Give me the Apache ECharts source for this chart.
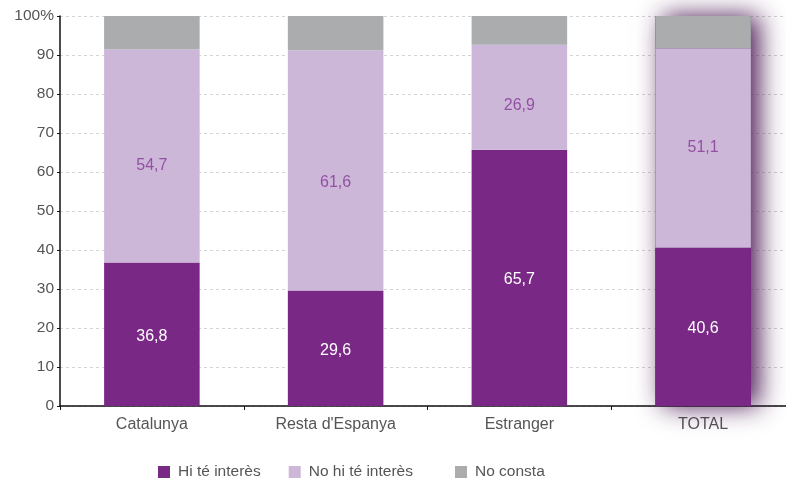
<!DOCTYPE html>
<html>
<head>
<meta charset="utf-8">
<script src="https://cdn.jsdelivr.net/npm/echarts@6/dist/echarts.min.js"></script>
<style>
  html, body { margin: 0; padding: 0; background: #fff; overflow: hidden; }
  #chart { width: 795px; height: 480px; }
</style>
</head>
<body>
<div id="chart"></div>
<script>
// Categories and stacked shares (%)
const categories = ['Catalunya', "Resta d'Espanya", 'Estranger', 'TOTAL'];
const hiTeInteres = [36.8, 29.6, 65.7, 40.6];
const noHiTeInteres = [54.7, 61.6, 26.9, 51.1];
const noConsta = [8.5, 8.8, 7.4, 8.3];
const yTicks = [0, 10, 20, 30, 40, 50, 60, 70, 80, 90, 100];

// Vertical nudge (px) of the middle-segment labels, per column
const midLabelShift = [10, 12, 8, 0];

// Full-height backdrop only under the TOTAL column, used to cast its shadow
const totalBackdrop = categories.map((c, i) =>
  c === 'TOTAL' ? hiTeInteres[i] + noHiTeInteres[i] + noConsta[i] : null);

const FONT = 'Liberation Sans';
const chart = echarts.init(document.getElementById('chart'), null, { renderer: 'canvas' });

const fmt = p => String(p.value).replace('.', ',');

const legendBase = {
  top: 459,
  itemWidth: 12, itemHeight: 12, itemGap: 28,
  icon: 'rect',
  textStyle: { fontFamily: FONT, fontSize: 15.5, color: '#555', padding: [0, 0, 0, 3] }
};

chart.setOption({
  animation: false,
  textStyle: { fontFamily: FONT },
  grid: { left: 60, top: 16, right: 0, bottom: 74, containLabel: false },
  legend: [
    Object.assign({ left: 153, data: ['Hi té interès', 'No hi té interès'] }, legendBase),
    Object.assign({ left: 450, data: ['No consta'] }, legendBase)
  ],
  xAxis: {
    type: 'category',
    data: categories,
    axisLine: { lineStyle: { color: '#111', width: 1.5 } },
    axisTick: { show: true, length: 4, lineStyle: { color: '#111' } },
    axisLabel: { fontFamily: FONT, fontSize: 16, color: '#555', margin: 11 }
  },
  yAxis: {
    type: 'value',
    min: 0, max: 100, interval: 10,
    axisLine: { show: true, lineStyle: { color: '#111', width: 1.5 } },
    axisTick: { show: true, length: 3, lineStyle: { color: '#111' } },
    axisLabel: {
      fontFamily: FONT, fontSize: 15.5, color: '#555', margin: 6,
      formatter: v => yTicks.includes(v) ? (v === 100 ? '100%' : String(v)) : ''
    },
    splitLine: { show: true, lineStyle: { color: '#d4d4d4', type: [3, 3], width: 1 } }
  },
  series: [
    {
      name: 'backdrop',
      type: 'bar',
      data: totalBackdrop,
      barWidth: '52%',
      barGap: '-100%',
      z: 1,
      silent: true,
      itemStyle: {
        color: '#5b2068',
        shadowBlur: 24,
        shadowColor: 'rgba(65,15,75,0.95)',
        shadowOffsetX: 8,
        shadowOffsetY: 0
      }
    },
    {
      name: 'Hi té interès',
      type: 'bar',
      stack: 'total',
      data: hiTeInteres,
      barWidth: '52%',
      barGap: '-100%',
      z: 3,
      itemStyle: { color: '#7a2886' },
      label: {
        show: true, position: 'inside', formatter: fmt, offset: [0, 2],
        fontFamily: FONT, fontSize: 16, color: '#fff'
      }
    },
    {
      name: 'No hi té interès',
      type: 'bar',
      stack: 'total',
      data: noHiTeInteres.map((v, i) => ({
        value: v,
        label: { offset: [0, midLabelShift[i]] }
      })),
      barWidth: '52%',
      z: 3,
      itemStyle: { color: '#ccb7d9' },
      label: {
        show: true, position: 'inside', formatter: fmt,
        fontFamily: FONT, fontSize: 16, color: '#9350a3'
      }
    },
    {
      name: 'No consta',
      type: 'bar',
      stack: 'total',
      data: noConsta,
      barWidth: '52%',
      z: 3,
      itemStyle: { color: '#aaacae' }
    }
  ]
});
</script>
</body>
</html>
